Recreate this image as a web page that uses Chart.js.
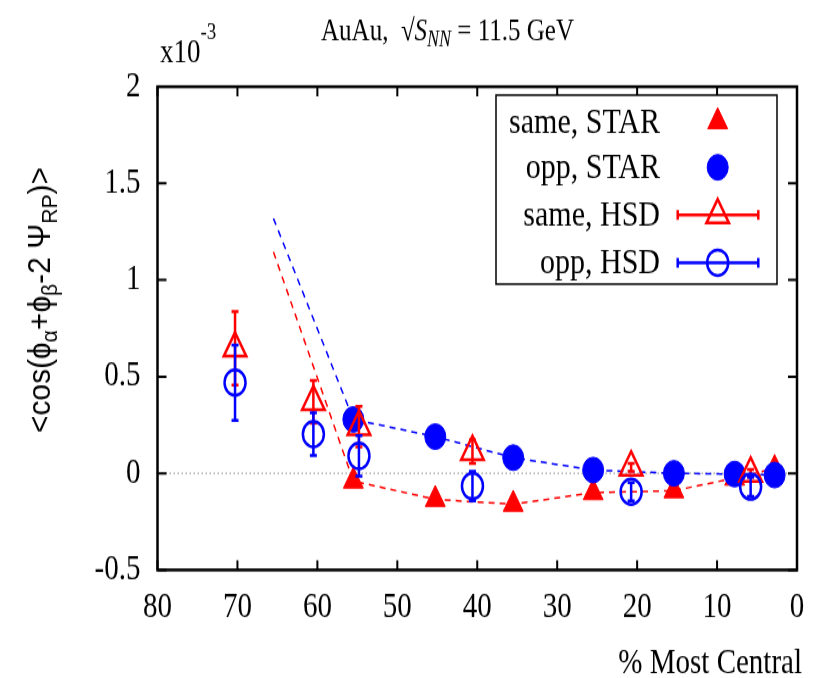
<!DOCTYPE html>
<html><head><meta charset="utf-8">
<script src="https://cdn.jsdelivr.net/npm/chart.js@4.4.1/dist/chart.umd.min.js"></script>
<style>
html,body{margin:0;padding:0;background:#fff;overflow:hidden;}
#wrap{width:815px;height:678px;position:relative;overflow:hidden;background:#fff;}
#c{position:absolute;left:0;top:0;transform-origin:0 0;transform:scaleY(1.2194);}
.pre{position:absolute;left:-9999px;top:0;}
</style></head><body>
<span class="pre" style="font-family:'Liberation Serif'">Aa1</span>
<span class="pre" style="font-family:'Liberation Serif';font-style:italic">Aa1</span>
<span class="pre" style="font-family:'Liberation Sans'">Aa1</span>
<div id="wrap"><canvas id="c" width="815" height="556"></canvas></div>
<script>
// ---- data ----
const starCentrality = [55.5, 45.25, 35.5, 25.5, 15.4, 7.8, 2.8];
const starSame = [-0.04, -0.135, -0.16, -0.10, -0.09, -0.025, 0.025];
const starOpp = [0.279, 0.19, 0.081, 0.017, 0.0, -0.004, -0.009];
const hsdCentrality = [70.3, 60.5, 54.8, 40.6, 20.75, 5.8];
const hsdSame = [0.647, 0.37, 0.241, 0.112, 0.031, 0.0];
const hsdSameErr = [0.19, 0.11, 0.105, 0.06, 0.02, 0.02];
const hsdOpp = [0.469, 0.203, 0.09, -0.066, -0.095, -0.069];
const hsdOppErr = [0.195, 0.11, 0.105, 0.077, 0.047, 0.05];
const guideStartX = 65.5;
const guideSameStart = 1.146;
const guideOppStart = 1.319;
const xTicks = [0, 10, 20, 30, 40, 50, 60, 70, 80];
const xTickLabels = ['0', '10', '20', '30', '40', '50', '60', '70', '80'];
const yTicks = [-0.5, 0, 0.5, 1, 1.5, 2];
const yTickLabels = ['-0.5', '0', '0.5', '1', '1.5', '2'];
const legendLabels = ['same, STAR', 'opp, STAR', 'same, HSD', 'opp, HSD'];

const RED = '#ff0000', BLUE = '#0000ff';
const SERIF = "'Liberation Serif', 'Times New Roman', Times, serif";
const SANS = "'Liberation Sans', Arial, Helvetica, sans-serif";

const pts = (xs, ys) => xs.map((x, i) => ({x: x, y: ys[i]}));

const errorBars = {
  id: 'errorBars',
  afterDatasetDraw(chart, args) {
    const ds = chart.data.datasets[args.index];
    if (!ds.errors) return;
    const ctx = chart.ctx, xs = chart.scales.x, ys = chart.scales.y;
    ctx.save();
    ctx.strokeStyle = ds.borderColor; ctx.lineWidth = 2.5; ctx.setLineDash([]);
    ds.data.forEach((p, i) => {
      const e = ds.errors[i];
      const px = xs.getPixelForValue(p.x);
      const t = ys.getPixelForValue(p.y + e), b = ys.getPixelForValue(p.y - e);
      ctx.beginPath();
      ctx.moveTo(px, t); ctx.lineTo(px, b);
      ctx.moveTo(px - 3.5, t); ctx.lineTo(px + 3.5, t);
      ctx.moveTo(px - 3.5, b); ctx.lineTo(px + 3.5, b);
      ctx.stroke();
    });
    ctx.restore();
  }
};

const frame = {
  id: 'frame',
  beforeDatasetsDraw(chart) {
    const ctx = chart.ctx, a = chart.chartArea, ys = chart.scales.y;
    const y0 = ys.getPixelForValue(0);
    ctx.save();
    ctx.strokeStyle = '#a0a0a0'; ctx.lineWidth = 1.3; ctx.setLineDash([1.5, 2.5]);
    ctx.beginPath(); ctx.moveTo(a.left, y0); ctx.lineTo(a.right, y0); ctx.stroke();
    ctx.restore();
  },
  afterDatasetsDraw(chart) {
    const ctx = chart.ctx, a = chart.chartArea, xs = chart.scales.x, ys = chart.scales.y;
    ctx.save();
    ctx.strokeStyle = '#000'; ctx.lineWidth = 2.5; ctx.setLineDash([]);
    ctx.strokeRect(a.left, a.top, a.right - a.left, a.bottom - a.top);
    ctx.lineWidth = 2;
    ctx.beginPath();
    xTicks.forEach(v => {
      const px = xs.getPixelForValue(v);
      ctx.moveTo(px, a.bottom); ctx.lineTo(px, a.bottom - 8);
      ctx.moveTo(px, a.top); ctx.lineTo(px, a.top + 8);
    });
    yTicks.forEach(v => {
      const py = ys.getPixelForValue(v);
      ctx.moveTo(a.left, py); ctx.lineTo(a.left + 9, py);
      ctx.moveTo(a.right, py); ctx.lineTo(a.right - 9, py);
    });
    ctx.stroke();
    ctx.restore();
  }
};

function drawRuns(ctx, runs, x, y) {
  let cx = x;
  runs.forEach(r => {
    ctx.font = r.font;
    ctx.fillText(r.t, cx, y + (r.dy || 0));
    cx += ctx.measureText(r.t).width;
  });
  return cx - x;
}
function runsWidth(ctx, runs) {
  let w = 0;
  runs.forEach(r => { ctx.font = r.font; w += ctx.measureText(r.t).width; });
  return w;
}

const texts = {
  id: 'texts',
  afterDraw(chart) {
    const ctx = chart.ctx;
    ctx.save();
    ctx.fillStyle = '#000'; ctx.textBaseline = 'alphabetic'; ctx.textAlign = 'left';
    // title
    const tr = [
      {t: 'AuAu,  ', font: '25px ' + SERIF},
      {t: '\u221A', font: '25px ' + SERIF},
      {t: 'S', font: 'italic 25px ' + SERIF},
      {t: 'NN', font: 'italic 18px ' + SERIF, dy: 5},
      {t: ' = 11.5 GeV', font: '25px ' + SERIF}
    ];
    const tw = runsWidth(ctx, tr);
    drawRuns(ctx, tr, 447.5 - tw / 2, 32.8);
    // exponent
    drawRuns(ctx, [{t: 'x10', font: '27px ' + SERIF}, {t: '-3', font: '19px ' + SERIF, dy: -19}], 160, 50.5);
    // x axis title
    ctx.font = '29px ' + SERIF; ctx.textAlign = 'right';
    ctx.fillText('% Most Central', 802, 552);
    ctx.textAlign = 'left';
    // y axis title (rotated)
    const yr = [
      {t: '<cos(\u03D5', font: '31px ' + SANS},
      {t: '\u03B1', font: '22px ' + SANS, dy: 7},
      {t: '+\u03D5', font: '31px ' + SANS},
      {t: '\u03B2', font: '22px ' + SANS, dy: 7},
      {t: '-2 \u03A8', font: '31px ' + SANS},
      {t: 'RP', font: '22px ' + SANS, dy: 7},
      {t: ')>', font: '31px ' + SANS}
    ];
    const yw = runsWidth(ctx, yr);
    const target = 218;
    ctx.translate(50, 246);
    ctx.rotate(-Math.PI / 2);
    ctx.scale(target / yw, 1);
    drawRuns(ctx, yr, -yw / 2, 0);
    ctx.restore();

    // legend
    ctx.save();
    ctx.fillStyle = '#fff'; ctx.strokeStyle = '#000'; ctx.lineWidth = 1.5;
    ctx.fillRect(496, 78, 281, 155); ctx.strokeRect(496, 78, 281, 155);
    const rowY = [99.8, 137.2, 176.3, 215.4];
    ctx.fillStyle = '#000'; ctx.font = '30px ' + SERIF; ctx.textAlign = 'right'; ctx.textBaseline = 'alphabetic';
    legendLabels.forEach((l, i) => ctx.fillText(l, 660, rowY[i] + 9));
    const sx = 717.7;
    const dss = chart.data.datasets;
    const legendSets = [dss[0], dss[1], dss[2], dss[3]];
    legendSets.forEach((ds, i) => {
      const y = rowY[i];
      if (ds.errors) {
        ctx.strokeStyle = ds.borderColor; ctx.lineWidth = 2.5;
        ctx.beginPath();
        ctx.moveTo(677.7, y); ctx.lineTo(758.3, y);
        ctx.moveTo(677.7, y - 4); ctx.lineTo(677.7, y + 4);
        ctx.moveTo(758.3, y - 4); ctx.lineTo(758.3, y + 4);
        ctx.stroke();
      }
      ctx.fillStyle = ds.backgroundColor; ctx.strokeStyle = ds.borderColor;
      ctx.lineWidth = ds.borderWidth;
      Chart.helpers.drawPoint(ctx, {pointStyle: ds.pointStyle, radius: ds.pointRadius, rotation: 0, borderWidth: ds.borderWidth}, sx, y);
    });
    ctx.restore();
  }
};

function build() {
  new Chart(document.getElementById('c'), {
    type: 'scatter',
    data: {
      datasets: [
        {label: 'same, STAR', data: pts(starCentrality, starSame), pointStyle: 'triangle', pointRadius: 11.5,
         backgroundColor: RED, borderColor: RED, borderWidth: 1, order: 3},
        {label: 'opp, STAR', data: pts(starCentrality, starOpp), pointStyle: 'circle', pointRadius: 10.5,
         backgroundColor: BLUE, borderColor: BLUE, borderWidth: 1, order: 2},
        {label: 'same, HSD', data: pts(hsdCentrality, hsdSame), errors: hsdSameErr, pointStyle: 'triangle', pointRadius: 13,
         backgroundColor: 'rgba(0,0,0,0)', borderColor: RED, borderWidth: 2.5, order: 1},
        {label: 'opp, HSD', data: pts(hsdCentrality, hsdOpp), errors: hsdOppErr, pointStyle: 'circle', pointRadius: 10.5,
         backgroundColor: 'rgba(0,0,0,0)', borderColor: BLUE, borderWidth: 2.5, order: 0},
        {label: 'same guide', data: [{x: guideStartX, y: guideSameStart}].concat(pts(starCentrality, starSame)),
         showLine: true, pointRadius: 0, borderColor: RED, borderWidth: 1.5, borderDash: [6, 5], tension: 0, order: 5},
        {label: 'opp guide', data: [{x: guideStartX, y: guideOppStart}].concat(pts(starCentrality, starOpp)),
         showLine: true, pointRadius: 0, borderColor: BLUE, borderWidth: 1.5, borderDash: [6, 5], tension: 0, order: 4}
      ]
    },
    options: {
      responsive: false, devicePixelRatio: 1, animation: false,
      layout: {padding: {left: 0, right: 18, top: 71.1, bottom: 0}},
      plugins: {legend: {display: false}, tooltip: {enabled: false}, title: {display: false}},
      elements: {point: {hoverRadius: 0}},
      scales: {
        x: {
          type: 'linear', min: 0, max: 80, reverse: true,
          afterBuildTicks: s => { s.ticks = xTicks.map(v => ({value: v})); },
          afterFit: s => { s.height = 88.6; },
          grid: {display: false, drawTicks: false}, border: {display: false},
          ticks: {padding: 14, color: '#000', font: {family: SERIF, size: 29}, maxRotation: 0,
                  callback: (v) => xTickLabels[xTicks.indexOf(v)]}
        },
        y: {
          type: 'linear', min: -0.5, max: 2,
          afterBuildTicks: s => { s.ticks = yTicks.map(v => ({value: v})); },
          afterFit: s => { s.width = 157.5; },
          grid: {display: false, drawTicks: false}, border: {display: false},
          ticks: {padding: 17, color: '#000', font: {family: SERIF, size: 29},
                  callback: (v) => yTickLabels[yTicks.indexOf(v)]}
        }
      }
    },
    plugins: [errorBars, frame, texts]
  });
}

let built = false;
function go() { if (!built) { built = true; build(); } }
if (document.fonts && document.fonts.load) {
  Promise.all([
    document.fonts.load("29px 'Liberation Serif'"),
    document.fonts.load("italic 25px 'Liberation Serif'"),
    document.fonts.load("31px 'Liberation Sans'")
  ]).then(go, go);
  setTimeout(go, 1500);
} else { go(); }
</script></body></html>
